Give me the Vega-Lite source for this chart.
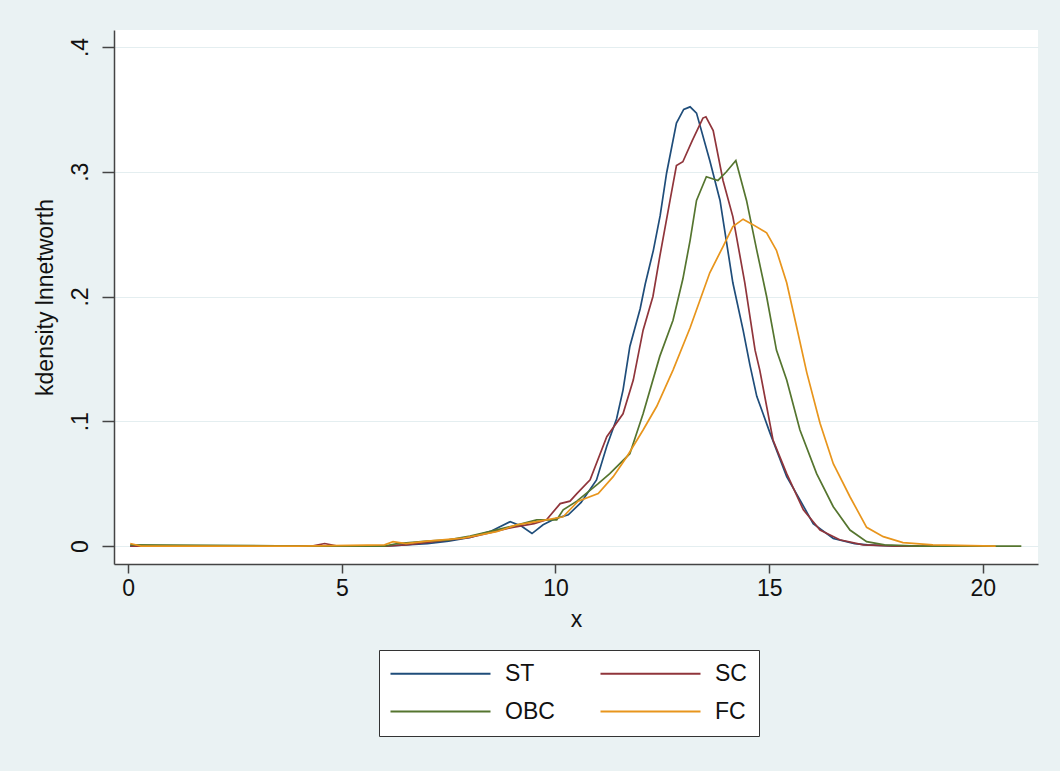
{
  "$schema": "https://vega.github.io/schema/vega-lite/v6.json",
  "width": 924,
  "height": 534,
  "autosize": {"type": "none"},
  "padding": {"left": 114, "top": 30, "right": 22, "bottom": 207},
  "background": "#eaf2f3",
  "config": {
    "view": {"fill": "white", "stroke": null},
    "font": "Liberation Sans",
    "axis": {
      "labelFont": "Liberation Sans",
      "titleFont": "Liberation Sans",
      "labelFontSize": 23,
      "titleFontSize": 23,
      "labelColor": "#111",
      "titleColor": "#111",
      "titleFontWeight": "normal",
      "domainColor": "#444",
      "domainWidth": 1.5,
      "tickColor": "#444",
      "tickWidth": 1.5
    },
    "legend": {
      "labelFont": "Liberation Sans",
      "labelFontSize": 23,
      "labelColor": "#111"
    }
  },
  "data": {
    "values": [
      {"g": "ST", "x": 0.05, "y": 0.0},
      {"g": "ST", "x": 4.0, "y": 0.0},
      {"g": "ST", "x": 6.0, "y": 0.0},
      {"g": "ST", "x": 6.5, "y": 0.001},
      {"g": "ST", "x": 7.0, "y": 0.002},
      {"g": "ST", "x": 7.5, "y": 0.004},
      {"g": "ST", "x": 8.0, "y": 0.007},
      {"g": "ST", "x": 8.5, "y": 0.012},
      {"g": "ST", "x": 8.94, "y": 0.0195},
      {"g": "ST", "x": 9.2, "y": 0.016},
      {"g": "ST", "x": 9.45, "y": 0.01},
      {"g": "ST", "x": 9.71, "y": 0.017},
      {"g": "ST", "x": 10.0, "y": 0.022},
      {"g": "ST", "x": 10.3, "y": 0.025},
      {"g": "ST", "x": 10.6, "y": 0.035},
      {"g": "ST", "x": 10.96, "y": 0.053},
      {"g": "ST", "x": 11.2, "y": 0.08},
      {"g": "ST", "x": 11.43, "y": 0.102},
      {"g": "ST", "x": 11.58, "y": 0.125},
      {"g": "ST", "x": 11.74, "y": 0.16},
      {"g": "ST", "x": 11.98, "y": 0.19},
      {"g": "ST", "x": 12.1, "y": 0.21},
      {"g": "ST", "x": 12.29, "y": 0.237},
      {"g": "ST", "x": 12.45, "y": 0.265},
      {"g": "ST", "x": 12.6, "y": 0.299},
      {"g": "ST", "x": 12.83, "y": 0.339},
      {"g": "ST", "x": 13.0, "y": 0.35},
      {"g": "ST", "x": 13.15, "y": 0.352},
      {"g": "ST", "x": 13.3, "y": 0.347},
      {"g": "ST", "x": 13.61, "y": 0.309},
      {"g": "ST", "x": 13.85, "y": 0.277},
      {"g": "ST", "x": 14.15, "y": 0.211},
      {"g": "ST", "x": 14.39, "y": 0.173},
      {"g": "ST", "x": 14.55, "y": 0.145},
      {"g": "ST", "x": 14.71, "y": 0.12},
      {"g": "ST", "x": 15.02, "y": 0.0905},
      {"g": "ST", "x": 15.41, "y": 0.0556},
      {"g": "ST", "x": 15.72, "y": 0.037},
      {"g": "ST", "x": 16.03, "y": 0.018},
      {"g": "ST", "x": 16.5, "y": 0.006},
      {"g": "ST", "x": 17.0, "y": 0.002},
      {"g": "ST", "x": 17.3, "y": 0.001},
      {"g": "ST", "x": 18.0, "y": 0.0},
      {"g": "ST", "x": 18.5, "y": 0.0},
      {"g": "SC", "x": 0.05, "y": 0.0},
      {"g": "SC", "x": 4.3, "y": 0.0},
      {"g": "SC", "x": 4.6, "y": 0.002},
      {"g": "SC", "x": 4.9, "y": 0.0},
      {"g": "SC", "x": 6.0, "y": 0.0},
      {"g": "SC", "x": 6.5, "y": 0.001},
      {"g": "SC", "x": 7.0, "y": 0.003},
      {"g": "SC", "x": 7.5, "y": 0.005},
      {"g": "SC", "x": 8.0, "y": 0.007},
      {"g": "SC", "x": 8.5, "y": 0.011},
      {"g": "SC", "x": 9.0, "y": 0.015},
      {"g": "SC", "x": 9.5, "y": 0.018},
      {"g": "SC", "x": 9.79, "y": 0.021},
      {"g": "SC", "x": 10.11, "y": 0.034},
      {"g": "SC", "x": 10.34, "y": 0.036},
      {"g": "SC", "x": 10.5, "y": 0.042},
      {"g": "SC", "x": 10.81, "y": 0.053},
      {"g": "SC", "x": 11.2, "y": 0.0876},
      {"g": "SC", "x": 11.58, "y": 0.106},
      {"g": "SC", "x": 11.82, "y": 0.133},
      {"g": "SC", "x": 12.05, "y": 0.173},
      {"g": "SC", "x": 12.28, "y": 0.2},
      {"g": "SC", "x": 12.44, "y": 0.232},
      {"g": "SC", "x": 12.68, "y": 0.277},
      {"g": "SC", "x": 12.83, "y": 0.305},
      {"g": "SC", "x": 12.98, "y": 0.308},
      {"g": "SC", "x": 13.2, "y": 0.325},
      {"g": "SC", "x": 13.45, "y": 0.343},
      {"g": "SC", "x": 13.52, "y": 0.344},
      {"g": "SC", "x": 13.69, "y": 0.333},
      {"g": "SC", "x": 13.92, "y": 0.293},
      {"g": "SC", "x": 14.15, "y": 0.264},
      {"g": "SC", "x": 14.43, "y": 0.211},
      {"g": "SC", "x": 14.67, "y": 0.157},
      {"g": "SC", "x": 14.78, "y": 0.141},
      {"g": "SC", "x": 15.09, "y": 0.085},
      {"g": "SC", "x": 15.41, "y": 0.058},
      {"g": "SC", "x": 15.8, "y": 0.029},
      {"g": "SC", "x": 16.19, "y": 0.0128},
      {"g": "SC", "x": 16.65, "y": 0.005},
      {"g": "SC", "x": 17.2, "y": 0.001},
      {"g": "SC", "x": 18.0, "y": 0.0},
      {"g": "SC", "x": 19.0, "y": 0.0},
      {"g": "OBC", "x": 0.05, "y": 0.001},
      {"g": "OBC", "x": 4.0, "y": 0.0},
      {"g": "OBC", "x": 6.0, "y": 0.0},
      {"g": "OBC", "x": 6.3, "y": 0.002},
      {"g": "OBC", "x": 7.0, "y": 0.004},
      {"g": "OBC", "x": 7.5, "y": 0.005},
      {"g": "OBC", "x": 8.0, "y": 0.008},
      {"g": "OBC", "x": 8.5, "y": 0.012},
      {"g": "OBC", "x": 9.0, "y": 0.016},
      {"g": "OBC", "x": 9.56, "y": 0.021},
      {"g": "OBC", "x": 10.03, "y": 0.021},
      {"g": "OBC", "x": 10.18, "y": 0.029},
      {"g": "OBC", "x": 10.5, "y": 0.036},
      {"g": "OBC", "x": 11.0, "y": 0.05},
      {"g": "OBC", "x": 11.27, "y": 0.058},
      {"g": "OBC", "x": 11.74, "y": 0.074},
      {"g": "OBC", "x": 12.05, "y": 0.106},
      {"g": "OBC", "x": 12.44, "y": 0.152},
      {"g": "OBC", "x": 12.75, "y": 0.181},
      {"g": "OBC", "x": 12.98, "y": 0.214},
      {"g": "OBC", "x": 13.15, "y": 0.245},
      {"g": "OBC", "x": 13.3, "y": 0.277},
      {"g": "OBC", "x": 13.53, "y": 0.296},
      {"g": "OBC", "x": 13.8, "y": 0.293},
      {"g": "OBC", "x": 14.0, "y": 0.3},
      {"g": "OBC", "x": 14.22, "y": 0.309},
      {"g": "OBC", "x": 14.47, "y": 0.277},
      {"g": "OBC", "x": 14.71, "y": 0.237},
      {"g": "OBC", "x": 14.94, "y": 0.2},
      {"g": "OBC", "x": 15.17, "y": 0.157},
      {"g": "OBC", "x": 15.41, "y": 0.133},
      {"g": "OBC", "x": 15.72, "y": 0.093},
      {"g": "OBC", "x": 16.11, "y": 0.058},
      {"g": "OBC", "x": 16.5, "y": 0.0315},
      {"g": "OBC", "x": 16.89, "y": 0.0128},
      {"g": "OBC", "x": 17.28, "y": 0.0035},
      {"g": "OBC", "x": 17.7, "y": 0.001},
      {"g": "OBC", "x": 18.5, "y": 0.0},
      {"g": "OBC", "x": 20.9, "y": 0.0},
      {"g": "FC", "x": 0.05, "y": 0.002},
      {"g": "FC", "x": 0.3, "y": 0.0},
      {"g": "FC", "x": 4.0, "y": 0.0},
      {"g": "FC", "x": 6.0, "y": 0.001},
      {"g": "FC", "x": 6.2, "y": 0.0035},
      {"g": "FC", "x": 6.5, "y": 0.002},
      {"g": "FC", "x": 7.0, "y": 0.004},
      {"g": "FC", "x": 7.84, "y": 0.0064},
      {"g": "FC", "x": 8.62, "y": 0.0115},
      {"g": "FC", "x": 9.09, "y": 0.017},
      {"g": "FC", "x": 9.56, "y": 0.0195},
      {"g": "FC", "x": 10.18, "y": 0.0235},
      {"g": "FC", "x": 10.53, "y": 0.036},
      {"g": "FC", "x": 11.0, "y": 0.042},
      {"g": "FC", "x": 11.35, "y": 0.0556},
      {"g": "FC", "x": 11.67, "y": 0.0716},
      {"g": "FC", "x": 12.05, "y": 0.093},
      {"g": "FC", "x": 12.37, "y": 0.112},
      {"g": "FC", "x": 12.75, "y": 0.141},
      {"g": "FC", "x": 13.15, "y": 0.175},
      {"g": "FC", "x": 13.38, "y": 0.197},
      {"g": "FC", "x": 13.61, "y": 0.219},
      {"g": "FC", "x": 13.92, "y": 0.24},
      {"g": "FC", "x": 14.15, "y": 0.256},
      {"g": "FC", "x": 14.39, "y": 0.262},
      {"g": "FC", "x": 14.6, "y": 0.258},
      {"g": "FC", "x": 14.94, "y": 0.251},
      {"g": "FC", "x": 15.17, "y": 0.237},
      {"g": "FC", "x": 15.41, "y": 0.211},
      {"g": "FC", "x": 15.64, "y": 0.176},
      {"g": "FC", "x": 15.88, "y": 0.139},
      {"g": "FC", "x": 16.19, "y": 0.0985},
      {"g": "FC", "x": 16.5, "y": 0.066},
      {"g": "FC", "x": 16.89, "y": 0.0395},
      {"g": "FC", "x": 17.28, "y": 0.015},
      {"g": "FC", "x": 17.67, "y": 0.0075},
      {"g": "FC", "x": 18.13, "y": 0.0027},
      {"g": "FC", "x": 18.83, "y": 0.001},
      {"g": "FC", "x": 20.3, "y": 0.0}
    ]
  },
  "mark": {"type": "line", "strokeWidth": 1.7, "clip": true},
  "encoding": {
    "x": {
      "field": "x",
      "type": "quantitative",
      "scale": {"domain": [-0.33, 21.29], "nice": false, "zero": false},
      "axis": {
        "title": "x",
        "values": [0, 5, 10, 15, 20],
        "grid": false,
        "tickSize": 9,
        "labelPadding": 4,
        "titlePadding": 8
      }
    },
    "y": {
      "field": "y",
      "type": "quantitative",
      "scale": {"domain": [-0.0144, 0.4136], "nice": false, "zero": false},
      "axis": {
        "title": "kdensity lnnetworth",
        "values": [0, 0.1, 0.2, 0.3, 0.4],
        "labelExpr": "datum.value == 0 ? '0' : slice(format(datum.value, '.1f'), 1)",
        "labelAngle": -90,
        "labelAlign": "center",
        "labelBaseline": "bottom",
        "labelPadding": 10,
        "tickSize": 12,
        "grid": true,
        "gridColor": "#e4eef0",
        "gridWidth": 1.2,
        "titlePadding": 12
      }
    },
    "color": {
      "field": "g",
      "type": "nominal",
      "title": null,
      "scale": {
        "domain": ["ST", "SC", "OBC", "FC"],
        "range": ["#1f4d7a", "#90353b", "#55752f", "#e8951c"]
      },
      "legend": {
        "orient": "none",
        "legendX": 265,
        "legendY": 620,
        "direction": "horizontal",
        "columns": 2,
        "symbolType": "M-1,0H9",
        "symbolSize": 400,
        "symbolStrokeWidth": 2,
        "symbolOffset": -2,
        "labelOffset": 93,
        "rowPadding": 14,
        "columnPadding": 41,
        "padding": 12,
        "strokeColor": "#333",
        "fillColor": "white",
        "cornerRadius": 0
      }
    }
  }
}
